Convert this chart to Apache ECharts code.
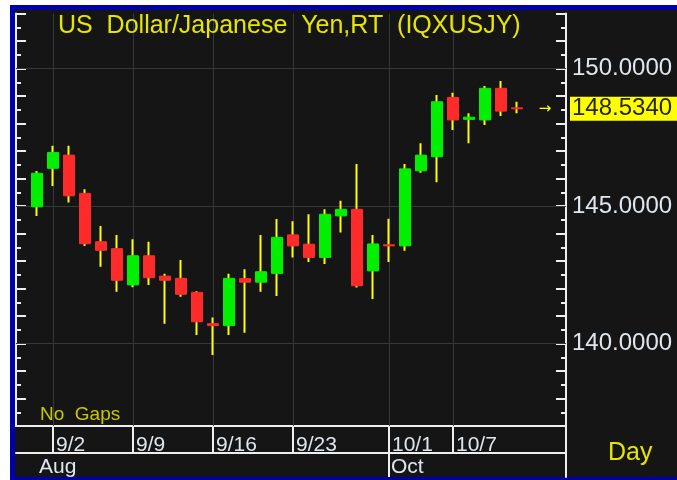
<!DOCTYPE html>
<html>
<head>
<meta charset="utf-8">
<title>USD/JPY Day</title>
<script src="https://cdn.jsdelivr.net/npm/echarts@6/dist/echarts.min.js"></script>
<style>
  html, body { margin: 0; padding: 0; background: #fff; }
  #frame {
    position: absolute; left: 10px; top: 5px; width: 667px; height: 475px;
    box-sizing: border-box; background: #151515;
    border-left: 5px solid #0000a8; border-top: 5px solid #0000a8; border-bottom: 3px solid #0000a8;
  }
  #chart { position: absolute; left: 0; top: 0; width: 677px; height: 480px; }
</style>
</head>
<body>
<div id="frame"></div>
<div id="chart"></div>
<script>
// daily bars, 8/30 .. 10/10 (index = trading day)
const opens  = [144.97, 146.37, 146.85, 145.46, 143.70, 143.45, 142.13, 143.19, 142.45, 142.37,
                141.86, 140.72, 140.65, 142.36, 142.23, 142.55, 143.95, 143.61, 143.13, 144.64,
                144.88, 142.64, 143.59, 143.55, 146.28, 146.79, 148.95, 148.15, 148.13, 149.28, 148.57]
const closes = [146.19, 146.95, 145.37, 143.63, 143.39, 142.30, 143.19, 142.39, 142.30, 141.79,
                140.79, 140.65, 142.37, 142.23, 142.61, 143.86, 143.55, 143.13, 144.70, 144.88,
                142.10, 143.62, 143.55, 146.35, 146.85, 148.79, 148.13, 148.23, 149.28, 148.45, 148.534]
const lows   = [144.64, 145.73, 145.13, 143.55, 142.79, 141.88, 142.05, 142.13, 140.72, 141.70,
                140.31, 139.58, 140.31, 140.39, 141.88, 141.73, 143.13, 142.96, 142.89, 144.04,
                142.04, 141.62, 142.96, 143.37, 146.21, 145.86, 147.76, 147.28, 147.95, 148.27, 148.37]
const highs  = [146.27, 147.19, 147.19, 145.61, 144.27, 143.95, 143.79, 143.70, 142.54, 143.04,
                141.90, 140.95, 142.54, 142.70, 143.95, 144.53, 144.45, 144.70, 144.88, 145.19,
                146.53, 143.95, 144.54, 146.53, 147.28, 149.04, 149.12, 148.37, 149.36, 149.55, 148.79]

// time axis labels (positions are bar indexes)
const dateTicks   = [1, 6, 11, 16, 22, 26]
const dateLabels  = ['9/2', '9/9', '9/16', '9/23', '10/1', '10/7']
const monthTicks  = [0, 22]
const monthLabels = ['Aug', 'Oct']
const monthLines  = [22]

// price axis
const priceLabels = [140, 145, 150]
const lastPrice = 148.534

const GREEN = '#00f000'
const RED = '#ff2b2b'
const WICK = '#ffff00'
const LINE = '#eeeeee'
const GRIDC = '#383838'
const TXT = '#dfe6ee'
const YEL = '#e6e600'
const REG = '"Liberation Sans", sans-serif'

const X_MIN = -1.3125
const X_MAX = 33.0625

// yellow high-low line behind each body
const wickData = opens.map((o, i) => {
  const m = (o + closes[i]) / 2
  return [i, m, m, lows[i], highs[i]]
})
// coloured body on top
const bodyData = opens.map((o, i) => [i, o, closes[i], Math.min(o, closes[i]), Math.max(o, closes[i])])

const chart = echarts.init(document.getElementById('chart'), null, { renderer: 'canvas' })

const whiteLine = { color: LINE, width: 2 }

chart.setOption({
  backgroundColor: 'transparent',
  animation: false,
  title: {
    text: 'US  Dollar/Japanese  Yen,RT  (IQXUSJY)',
    left: 58,
    top: 14,
    padding: 0,
    textStyle: { color: YEL, fontSize: 25, fontWeight: 'normal', fontFamily: REG }
  },
  graphic: [
    { type: 'text', left: 40, top: 405, style: { text: 'No  Gaps', fill: '#c8c800', font: '19px ' + REG } },
    { type: 'text', left: 608, top: 441, style: { text: 'Day', fill: YEL, font: '25px ' + REG } }
  ],
  grid: [
    { left: 16, top: 13.5, width: 550, height: 412.5, outerBoundsMode: 'none' },
    { left: 16, top: 426, width: 550, height: 27, outerBoundsMode: 'none' },
    { left: 16, top: 453, width: 550, height: 24, outerBoundsMode: 'none' }
  ],
  xAxis: [
    {
      gridIndex: 0, type: 'value', min: X_MIN, max: X_MAX, position: 'bottom',
      axisLine: { show: true, onZero: false, lineStyle: whiteLine },
      axisTick: { show: false }, axisLabel: { show: false }, splitLine: { show: false }
    },
    {
      gridIndex: 1, type: 'value', min: X_MIN, max: X_MAX, position: 'top',
      axisLine: { show: true, onZero: false, lineStyle: whiteLine },
      axisTick: { show: true, inside: true, length: 27, customValues: dateTicks, lineStyle: whiteLine },
      axisLabel: {
        inside: true, customValues: dateTicks, margin: 9, align: 'left', verticalAlign: 'top',
        padding: [0, 0, 0, 3], color: TXT, fontSize: 21, fontFamily: REG,
        formatter: v => dateLabels[dateTicks.indexOf(v)]
      },
      splitLine: { show: false }
    },
    {
      gridIndex: 2, type: 'value', min: X_MIN, max: X_MAX, position: 'top',
      axisLine: { show: true, onZero: false, lineStyle: whiteLine },
      axisTick: { show: true, inside: true, length: 24, customValues: monthLines, lineStyle: whiteLine },
      axisLabel: {
        inside: true, customValues: monthTicks, margin: 4, align: 'left', verticalAlign: 'top',
        padding: [0, 0, 0, 2], color: TXT, fontSize: 21, fontFamily: REG,
        formatter: v => monthLabels[monthTicks.indexOf(v)]
      },
      splitLine: { show: false }
    }
  ],
  yAxis: [
    {
      gridIndex: 0, type: 'value', min: 137, max: 152, interval: 1, position: 'left',
      axisLine: { show: true, onZero: false, lineStyle: whiteLine },
      axisTick: { show: true, inside: true, length: 10, lineStyle: whiteLine },
      minorTick: { show: true, splitNumber: 2, length: 5, lineStyle: whiteLine },
      axisLabel: { show: false }, splitLine: { show: false }
    },
    {
      gridIndex: 0, type: 'value', min: 137, max: 152, interval: 1, position: 'right',
      axisLine: { show: true, onZero: false, lineStyle: whiteLine },
      axisTick: { show: true, inside: true, length: 10, lineStyle: whiteLine },
      minorTick: { show: true, splitNumber: 2, length: 5, lineStyle: whiteLine },
      axisLabel: {
        customValues: priceLabels.concat([lastPrice]),
        margin: 4,
        formatter: function (v) {
          if (Math.abs(v - lastPrice) < 1e-6) return '{cur|' + v.toFixed(4) + '}'
          return '{n|' + v.toFixed(4) + '}'
        },
        rich: {
          n: { color: TXT, fontSize: 24, fontFamily: REG, padding: [0, 0, 0, 2] },
          cur: { color: '#262600', backgroundColor: '#ffff00', fontSize: 24, fontFamily: REG,
                 lineHeight: 26, padding: [0, 12, 0, 2] }
        }
      },
      splitLine: { show: false }
    },
    {
      gridIndex: 1, type: 'value', min: 0, max: 1, position: 'right',
      axisLine: { show: true, onZero: false, lineStyle: whiteLine },
      axisTick: { show: false }, axisLabel: { show: false }, splitLine: { show: false }
    },
    {
      gridIndex: 2, type: 'value', min: 0, max: 1, position: 'right',
      axisLine: { show: true, onZero: false, lineStyle: whiteLine },
      axisTick: { show: false }, axisLabel: { show: false }, splitLine: { show: false }
    }
  ],
  series: [
    {
      name: 'range',
      type: 'candlestick',
      xAxisIndex: 0,
      yAxisIndex: 0,
      z: 3,
      barWidth: 2,
      data: wickData,
      itemStyle: {
        color: WICK, color0: WICK, borderColor: WICK, borderColor0: WICK,
        borderColorDoji: WICK, borderWidth: 2
      },
      // grid lines
      markLine: {
        silent: true,
        symbol: 'none',
        z: 1,
        animation: false,
        label: { show: false },
        lineStyle: { color: GRIDC, width: 1, type: 'solid' },
        emphasis: { disabled: true },
        data: dateTicks.map(v => ({ xAxis: v })).concat(priceLabels.map(v => ({ yAxis: v })))
      }
    },
    {
      name: 'USDJPY',
      type: 'candlestick',
      xAxisIndex: 0,
      yAxisIndex: 0,
      z: 4,
      barWidth: 11,
      data: bodyData,
      itemStyle: {
        color: GREEN, color0: RED, borderColor: GREEN, borderColor0: RED,
        borderColorDoji: RED, borderWidth: 1
      },
      // last price arrow
      markPoint: {
        silent: true,
        symbol: 'rect',
        symbolSize: 1,
        itemStyle: { color: 'rgba(0,0,0,0)' },
        label: { show: true, position: 'inside', formatter: '→', color: WICK, fontSize: 15, fontFamily: 'DejaVu Sans' },
        data: [{ coord: [31.75, lastPrice] }]
      }
    }
  ]
})
</script>
</body>
</html>
